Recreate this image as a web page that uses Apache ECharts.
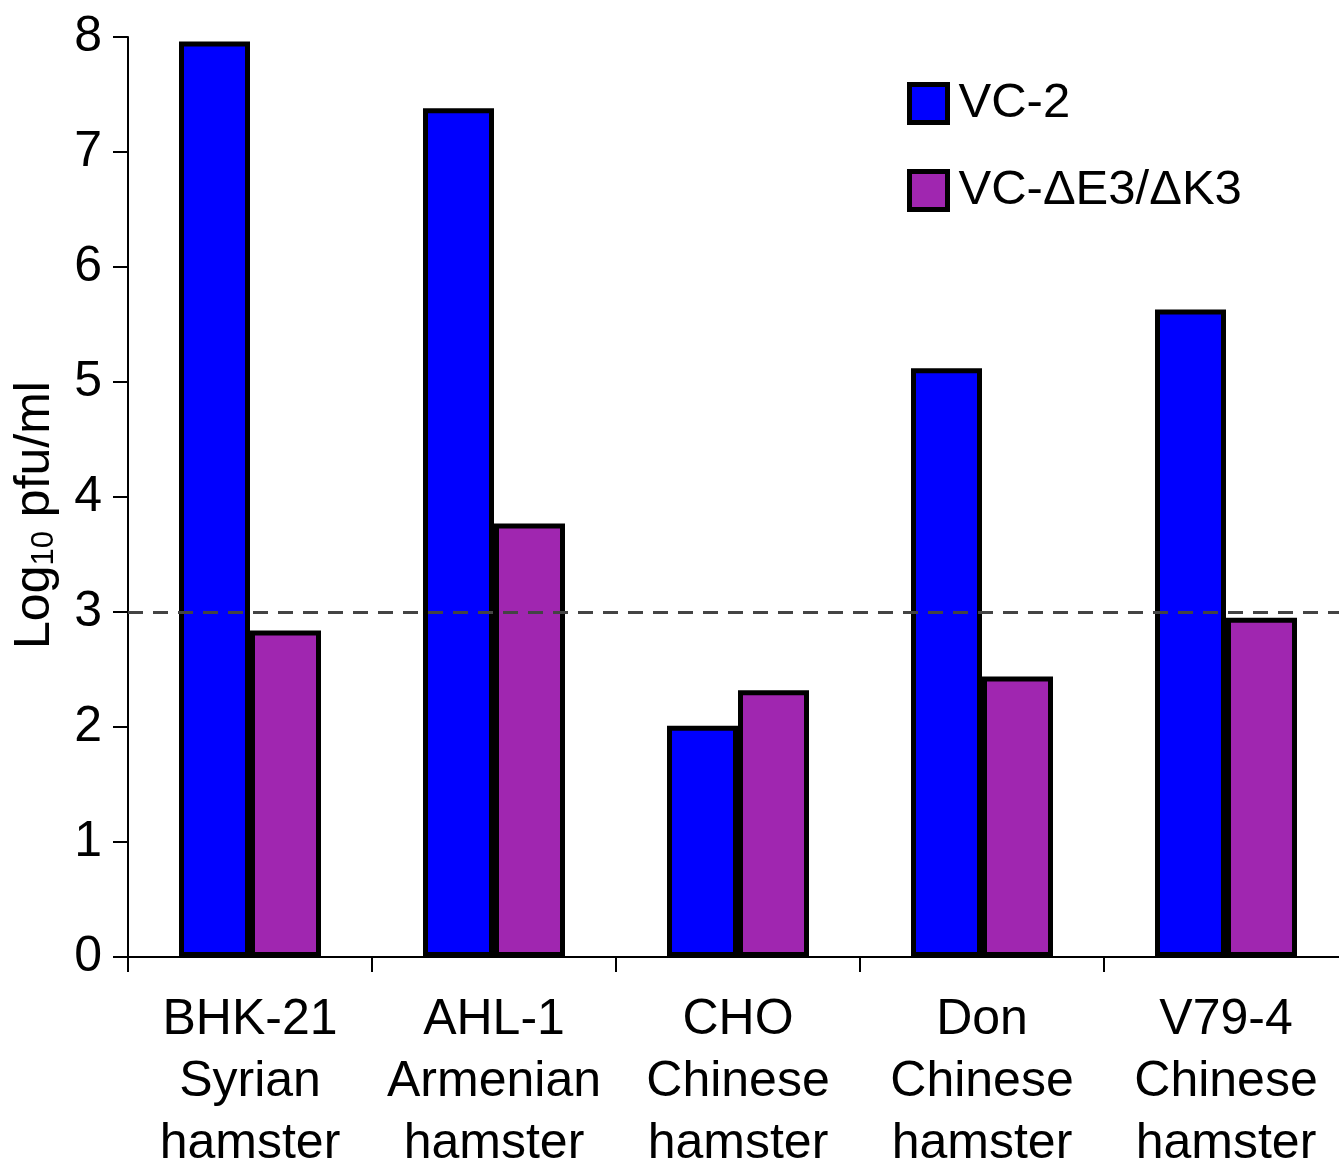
<!DOCTYPE html>
<html>
<head>
<meta charset="utf-8">
<script src="https://cdn.jsdelivr.net/npm/echarts@6/dist/echarts.min.js"></script>
<style>
  html, body { margin: 0; padding: 0; background: #fff; }
  #chart { width: 1339px; height: 1161px; }
</style>
</head>
<body>
<div id="chart"></div>
<script>
// cell lines, one line per label row
var categories = [
    'BHK-21\nSyrian\nhamster',
    'AHL-1\nArmenian\nhamster',
    'CHO\nChinese\nhamster',
    'Don\nChinese\nhamster',
    'V79-4\nChinese\nhamster'
];
var vc2 = [7.96, 7.38, 2.01, 5.12, 5.63];
var vcDelta = [2.84, 3.77, 2.32, 2.44, 2.95];
var yTicks = [0, 1, 2, 3, 4, 5, 6, 7, 8];
var detectionLimit = 3;

var font = '"Liberation Sans", Arial, sans-serif';

var chart = echarts.init(document.getElementById('chart'));

var option = {
    animation: false,
    backgroundColor: '#fff',
    grid: {
        left: 128,
        right: -9,
        top: 37,
        bottom: 204,
        outerBoundsMode: 'none'
    },
    legend: {
        orient: 'vertical',
        left: 902,
        top: 74,
        icon: 'rect',
        itemWidth: 38,
        itemHeight: 38,
        itemGap: 38,
        itemStyle: { borderColor: '#000', borderWidth: 5 },
        textStyle: {
            fontFamily: font,
            fontSize: 49,
            color: '#000',
            padding: [0, 0, 0, 6]
        },
        data: ['VC-2', 'VC-\u0394E3/\u0394K3']
    },
    xAxis: {
        type: 'category',
        data: categories,
        axisLine: { lineStyle: { color: '#000', width: 2 } },
        axisTick: { show: true, length: 15, lineStyle: { color: '#000', width: 2 } },
        axisLabel: {
            color: '#000',
            fontFamily: font,
            fontSize: 50,
            lineHeight: 62,
            margin: 32,
            interval: 0
        }
    },
    yAxis: {
        type: 'value',
        min: yTicks[0],
        max: yTicks[yTicks.length - 1],
        interval: 1,
        splitLine: { show: false },
        axisLine: { show: true, lineStyle: { color: '#000', width: 2 } },
        axisTick: { show: true, length: 15, lineStyle: { color: '#000', width: 2 } },
        axisLabel: {
            color: '#000',
            fontFamily: font,
            fontSize: 50,
            margin: 26
        },
        name: '{a|Log}{s|10}{a| pfu/ml}',
        nameLocation: 'middle',
        nameRotate: 90,
        nameGap: 68,
        nameTextStyle: {
            padding: [0, 36, 0, 0],
            rich: {
                a: { fontFamily: font, fontSize: 50, color: '#000' },
                s: { fontFamily: font, fontSize: 31, color: '#000', verticalAlign: 'bottom', padding: [17, 0, 0, 0] }
            }
        }
    },
    series: [
        {
            name: 'VC-2',
            type: 'bar',
            data: vc2,
            barWidth: 71,
            barGap: '0%',
            itemStyle: { color: '#0000ff', borderColor: '#000', borderWidth: 5 },
            markLine: {
                silent: true,
                symbol: 'none',
                z: 10,
                label: { show: false },
                lineStyle: { color: '#444', width: 3, type: [15, 10] },
                data: [{ yAxis: detectionLimit }]
            }
        },
        {
            name: 'VC-\u0394E3/\u0394K3',
            type: 'bar',
            data: vcDelta,
            barWidth: 71,
            barGap: '0%',
            itemStyle: { color: '#a026b0', borderColor: '#000', borderWidth: 5 }
        }
    ]
};

chart.setOption(option);
</script>
</body>
</html>
